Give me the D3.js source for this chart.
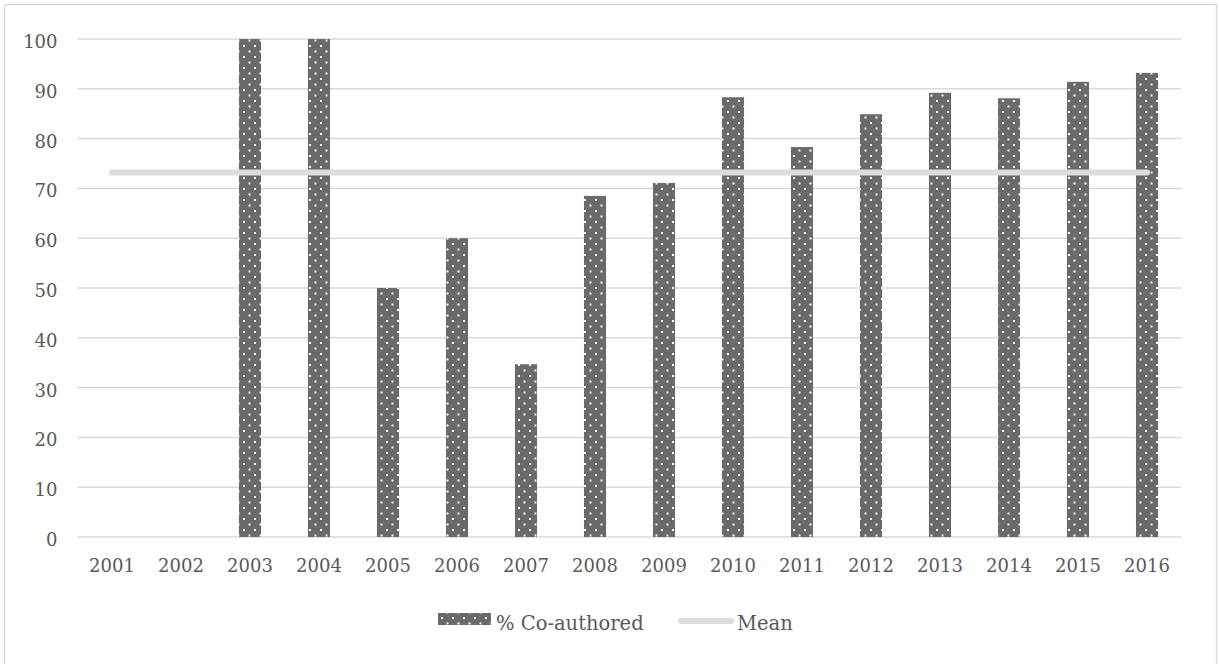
<!DOCTYPE html>
<html>
<head>
<meta charset="utf-8">
<script src="https://cdn.jsdelivr.net/npm/d3@7/dist/d3.min.js"></script>
<style>
  html, body { margin: 0; padding: 0; background: #ffffff; }
  svg { display: block; }
  text { font-family: "DejaVu Serif", "Liberation Serif", serif; fill: #595959; }
</style>
</head>
<body>
<svg id="chart" width="1219" height="664"></svg>
<script>
// Share of co-authored articles per year, with the overall mean
const years = ["2001", "2002", "2003", "2004", "2005", "2006", "2007", "2008",
               "2009", "2010", "2011", "2012", "2013", "2014", "2015", "2016"];
const coAuthored = [0, 0, 100, 100, 50, 60, 34.7, 68.5,
                    71.1, 88.3, 78.3, 84.9, 89.2, 88.1, 91.4, 93.2];
const meanValue = 73.2;
const yTicks = [0, 10, 20, 30, 40, 50, 60, 70, 80, 90, 100];
const seriesNames = ["% Co-authored", "Mean"];

const FONT = "DejaVu Serif, Liberation Serif, serif";
const FONT_SIZE = 18;
const LEGEND_FONT_SIZE = 19.5;

const svg = d3.select("#chart");
const margin = { left: 77.5, right: 1181.5, top: 39, bottom: 537 };

const x = d3.scaleBand()
  .domain(years)
  .range([margin.left, margin.right])
  .paddingInner(0.68)
  .paddingOuter(0.34);

const y = d3.scaleLinear()
  .domain([0, 100])
  .range([margin.bottom, margin.top]);

// Dotted fill used by the bars and the legend swatch
const defs = svg.append("defs");
const pat = defs.append("pattern")
  .attr("id", "dots")
  .attr("patternUnits", "userSpaceOnUse")
  .attr("width", 11)
  .attr("height", 11);
pat.append("rect").attr("width", 11).attr("height", 11).attr("fill", "#6a6a6a");
pat.append("rect").attr("x", 1).attr("y", 1).attr("width", 2).attr("height", 2).attr("fill", "#ffffff");
pat.append("rect").attr("x", 6.5).attr("y", 6.5).attr("width", 2).attr("height", 2).attr("fill", "#ffffff");

// Outer frame
svg.append("rect")
  .attr("x", 4.5).attr("y", 4.5)
  .attr("width", 1212).attr("height", 680)
  .attr("fill", "none")
  .attr("stroke", "#d9d9d9")
  .attr("stroke-width", 1.5);

// Horizontal gridlines
svg.append("g")
  .selectAll("line")
  .data(yTicks)
  .join("line")
  .attr("x1", margin.left)
  .attr("x2", margin.right)
  .attr("y1", d => y(d))
  .attr("y2", d => y(d))
  .attr("stroke", "#d9d9d9")
  .attr("stroke-width", 1.5);

// Y axis labels
const yAxis = d3.axisLeft(y).tickValues(yTicks).tickSize(0).tickPadding(0);
svg.append("g")
  .attr("transform", `translate(${margin.left - 20},2)`)
  .call(yAxis)
  .call(g => g.select(".domain").remove())
  .call(g => g.selectAll("text")
    .attr("font-family", FONT)
    .attr("font-size", FONT_SIZE)
    .attr("fill", "#595959")
    .attr("dy", "0.36em"));

// X axis labels
const xAxis = d3.axisBottom(x).tickSize(0).tickPadding(0);
svg.append("g")
  .attr("transform", `translate(0,${margin.bottom + 22})`)
  .call(xAxis)
  .call(g => g.select(".domain").remove())
  .call(g => g.selectAll("text")
    .attr("font-family", FONT)
    .attr("font-size", FONT_SIZE)
    .attr("fill", "#595959")
    .attr("dy", "0.71em"));

// Bars
svg.append("g")
  .selectAll("rect")
  .data(years.map((yr, i) => ({ yr, v: coAuthored[i] })).filter(d => d.v > 0))
  .join("rect")
  .attr("x", d => x(d.yr))
  .attr("y", d => y(d.v))
  .attr("width", x.bandwidth())
  .attr("height", d => y(0) - y(d.v))
  .attr("fill", "url(#dots)");

// Mean line across the category centres
const meanLine = d3.line()
  .x(d => x(d) + x.bandwidth() / 2)
  .y(() => y(meanValue));
svg.append("path")
  .datum(years)
  .attr("d", meanLine)
  .attr("fill", "none")
  .attr("stroke", "#dcdcdc")
  .attr("stroke-width", 6)
  .attr("stroke-linecap", "round");

// Legend
const legend = svg.append("g")
  .attr("font-family", FONT)
  .attr("font-size", LEGEND_FONT_SIZE);
legend.append("rect")
  .attr("x", 438).attr("y", 613)
  .attr("width", 53).attr("height", 12)
  .attr("fill", "url(#dots)");
legend.append("text")
  .attr("x", 496).attr("y", 630)
  .text(seriesNames[0]);
legend.append("line")
  .attr("x1", 681).attr("x2", 731)
  .attr("y1", 621).attr("y2", 621)
  .attr("stroke", "#dcdcdc")
  .attr("stroke-width", 6)
  .attr("stroke-linecap", "round");
legend.append("text")
  .attr("x", 737).attr("y", 630)
  .text(seriesNames[1]);
</script>
</body>
</html>
